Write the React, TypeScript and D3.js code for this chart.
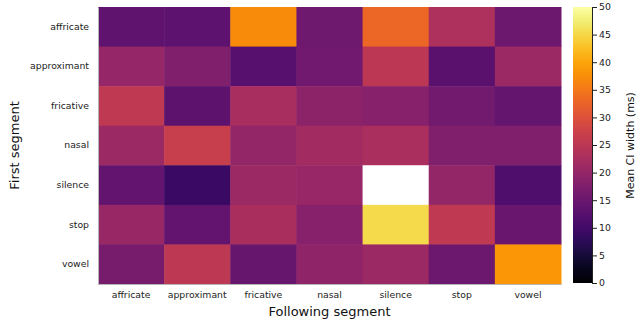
import React, { useRef, useEffect } from 'react';
import * as d3 from 'd3';

const firstSegments = ['affricate', 'approximant', 'fricative', 'nasal', 'silence', 'stop', 'vowel'];
const followingSegments = ['affricate', 'approximant', 'fricative', 'nasal', 'silence', 'stop', 'vowel'];

// mean CI width (ms), one row per first segment; null = no data
const widthAffricate = [13.5, 13.2, 37.2, 15.6, 33.2, 23.2, 15.2];
const widthApproximant = [20.3, 17.6, 12.5, 15.8, 25.0, 13.0, 21.0];
const widthFricative = [25.5, 13.3, 22.6, 19.0, 18.4, 16.0, 14.2];
const widthNasal = [21.0, 26.6, 20.0, 21.8, 23.0, 17.6, 17.6];
const widthSilence = [14.0, 9.0, 21.0, 20.5, null, 20.0, 11.7];
const widthStop = [20.7, 14.0, 22.8, 18.5, 45.5, 25.5, 14.8];
const widthVowel = [16.5, 25.3, 14.5, 19.5, 21.0, 15.2, 38.6];

const colorTicks = [0, 5, 10, 15, 20, 25, 30, 35, 40, 45, 50];

export default function App() {
  const svgRef = useRef<SVGSVGElement>(null);
  const width = 637;
  const height = 322;
  const margin = { top: 7, right: 76, bottom: 38, left: 98 };
  const font = 'DejaVu Sans, sans-serif';

  useEffect(() => {
    const svg = d3.select(svgRef.current);
    svg.selectAll('*').remove();

    const rows = [widthAffricate, widthApproximant, widthFricative, widthNasal, widthSilence, widthStop, widthVowel];
    const cells = rows.flatMap((row, i) =>
      row.map((v, j) => ({ first: firstSegments[i], following: followingSegments[j], value: v }))
    );

    const x = d3.scaleBand().domain(followingSegments).range([margin.left, width - margin.right]);
    const y = d3.scaleBand().domain(firstSegments).range([margin.top, height - margin.bottom]);
    const color = d3.scaleSequential(d3.interpolateInferno).domain([0, 50]);

    svg.append('g')
      .selectAll('rect')
      .data(cells)
      .join('rect')
      .attr('x', d => x(d.following)!)
      .attr('y', d => y(d.first)!)
      .attr('width', x.bandwidth() + 0.5)
      .attr('height', y.bandwidth() + 0.5)
      .attr('fill', d => (d.value == null ? '#ffffff' : color(d.value)));

    // x axis
    svg.append('g')
      .attr('transform', `translate(0,${height - margin.bottom})`)
      .call(d3.axisBottom(x).tickSize(0).tickSizeOuter(0).tickPadding(7))
      .call(g => g.select('.domain').attr('stroke', '#b5b5b5'))
      .call(g => g.selectAll('.tick text')
        .attr('font-size', 9.3)
        .attr('font-family', font)
        .attr('fill', '#222'));

    // y axis
    svg.append('g')
      .attr('transform', `translate(${margin.left},0)`)
      .call(d3.axisLeft(y).tickSize(0).tickSizeOuter(0).tickPadding(9))
      .call(g => g.select('.domain').attr('stroke', '#b5b5b5'))
      .call(g => g.selectAll('.tick text')
        .attr('font-size', 9.3)
        .attr('font-family', font)
        .attr('fill', '#222'));

    // colorbar
    const cbX = 573;
    const cbW = 19;
    const cy = d3.scaleLinear().domain([0, 50]).range([283, 7]);
    const grad = svg.append('defs').append('linearGradient')
      .attr('id', 'cbgrad')
      .attr('x1', 0).attr('y1', 1).attr('x2', 0).attr('y2', 0);
    d3.range(0, 1.0001, 0.05).forEach(t => {
      grad.append('stop').attr('offset', t).attr('stop-color', d3.interpolateInferno(t));
    });
    svg.append('rect')
      .attr('x', cbX)
      .attr('y', cy(50))
      .attr('width', cbW)
      .attr('height', cy(0) - cy(50))
      .attr('fill', 'url(#cbgrad)');

    svg.append('g')
      .attr('transform', `translate(${cbX + cbW},0)`)
      .call(d3.axisRight(cy).tickValues(colorTicks).tickSize(5).tickSizeOuter(0).tickPadding(2))
      .call(g => g.select('.domain').attr('stroke', '#222'))
      .call(g => g.selectAll('.tick line').attr('stroke', '#222'))
      .call(g => g.selectAll('.tick text')
        .attr('font-size', 9.3)
        .attr('font-family', font)
        .attr('fill', '#222'));

    // axis titles
    svg.append('text')
      .attr('x', (margin.left + width - margin.right) / 2)
      .attr('y', 316)
      .attr('text-anchor', 'middle')
      .attr('font-size', 13)
      .attr('font-family', font)
      .attr('fill', '#111')
      .text('Following segment');

    svg.append('text')
      .attr('transform', `translate(19,${(margin.top + height - margin.bottom) / 2}) rotate(-90)`)
      .attr('text-anchor', 'middle')
      .attr('font-size', 13)
      .attr('font-family', font)
      .attr('fill', '#111')
      .text('First segment');

    svg.append('text')
      .attr('transform', `translate(634,${(margin.top + height - margin.bottom) / 2}) rotate(-90)`)
      .attr('text-anchor', 'middle')
      .attr('font-size', 11)
      .attr('font-family', font)
      .attr('fill', '#111')
      .text('Mean CI width (ms)');
  }, []);

  return (
    <svg
      ref={svgRef}
      width={width}
      height={height}
      style={{ position: 'absolute', left: 0, top: 0, background: '#fff' }}
    />
  );
}
